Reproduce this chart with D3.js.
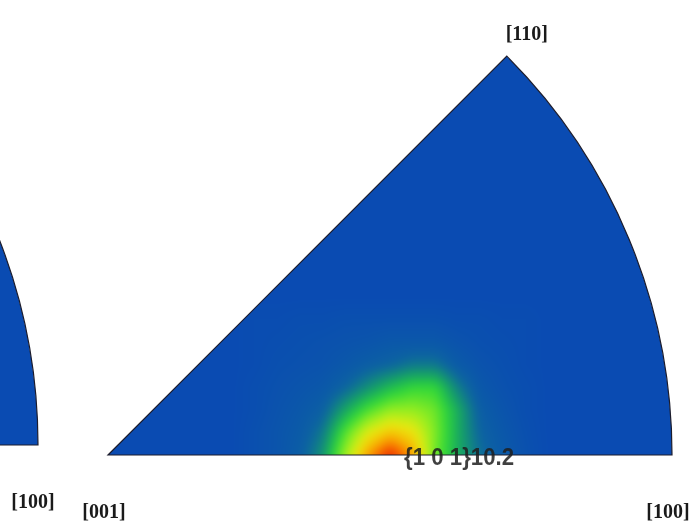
<!DOCTYPE html>
<html><head><meta charset="utf-8">
<script src="https://cdn.jsdelivr.net/npm/d3@7"></script>
<style>
html,body{margin:0;padding:0;background:#fff;}
#wrap{position:relative;width:698px;height:527px;overflow:hidden;}
canvas,svg{position:absolute;left:0;top:0;}
</style></head>
<body><div id="wrap"><canvas id="cv" width="698" height="527"></canvas><svg id="sv" width="698" height="527"></svg></div>
<script>
// Direction labels
const poleLabels = ["[001]", "[100]", "[110]"];
const prevSectorLabel = "[100]";
const peakLabel = "{1 0 1}10.2";

// Intensity grid (fraction of max) around the hot spot, u along [001]->[100], v upward
const gridU = [0.22,0.26,0.30,0.34,0.38,0.42,0.46,0.50,0.54,0.58,0.62,0.66,0.70,0.74,0.78];
const gridV = [0.00,0.04,0.08,0.12,0.16,0.20,0.24,0.28];
const gridVals = [
  [0,0.03,0.06,0.12,0.26,0.56,0.82,0.98,0.82,0.50,0.32,0.18,0.10,0.04,0],
  [0,0.03,0.06,0.10,0.20,0.46,0.66,0.76,0.70,0.52,0.32,0.15,0.08,0.03,0],
  [0,0.02,0.05,0.08,0.13,0.30,0.45,0.55,0.55,0.50,0.32,0.12,0.06,0.02,0],
  [0,0.02,0.04,0.06,0.08,0.15,0.25,0.35,0.42,0.42,0.22,0.08,0.04,0.02,0],
  [0,0.01,0.03,0.04,0.05,0.08,0.12,0.15,0.20,0.20,0.10,0.05,0.03,0.01,0],
  [0,0.01,0.02,0.03,0.04,0.05,0.06,0.08,0.08,0.08,0.05,0.03,0.02,0.01,0],
  [0,0.01,0.01,0.02,0.02,0.03,0.03,0.03,0.03,0.03,0.02,0.02,0.01,0.01,0],
  [0,0,0,0,0,0,0,0,0,0,0,0,0,0,0]
];
// colour ramp stops
const rampStops = [0, 0.15, 0.30, 0.42, 0.55, 0.68, 0.80, 0.90, 1.0];
const rampColors = ["#0a4bb2","#0c62a2","#16a464","#30d838","#94ee20","#eaea10","#f8b000","#f86000","#e01800"];

const x = d3.scaleLinear().domain([0,1]).range([108,672]);
const y = d3.scaleLinear().domain([0,1]).range([455,-109]);
const xp = d3.scaleLinear().domain([0,1]).range([-526,38]);
const yp = d3.scaleLinear().domain([0,1]).range([445,-119]);
const color = d3.scaleLinear().domain(rampStops).range(rampColors).clamp(true);
const R = x(1)-x(0);
const c45 = Math.SQRT1_2;

function sectorPath(sx, sy){
  return `M${sx(0)},${sy(0)} L${sx(1)},${sy(0)} A${R},${R} 0 0 0 ${sx(c45)},${sy(c45)} Z`;
}

const iu = d3.scaleLinear().domain(gridU).range(d3.range(gridU.length));
const iv = d3.scaleLinear().domain(gridV).range(d3.range(gridV.length));
function field(u,v){
  if (v < 0) v = 0;
  if (u < gridU[0] || u > gridU[gridU.length-1] || v > gridV[gridV.length-1]) return 0;
  const fi = iu(u), fj = iv(v);
  const i0 = Math.min(Math.floor(fi), gridU.length-2), j0 = Math.min(Math.floor(fj), gridV.length-2);
  const a = fi-i0, b = fj-j0;
  const g = gridVals;
  return (1-a)*(1-b)*g[j0][i0] + a*(1-b)*g[j0][i0+1] + (1-a)*b*g[j0+1][i0] + a*b*g[j0+1][i0+1];
}

const W = 698, H = 527;
const off = document.createElement("canvas");
off.width = W; off.height = H;
const octx = off.getContext("2d");
const img = octx.createImageData(W,H);
for (let py=0; py<H; py++){
  for (let px=0; px<W; px++){
    const u = x.invert(px+0.5), v = y.invert(py+0.5);
    const c = d3.rgb(color(field(u,v)));
    const k = (py*W+px)*4;
    img.data[k]=c.r; img.data[k+1]=c.g; img.data[k+2]=c.b; img.data[k+3]=255;
  }
}
octx.putImageData(img,0,0);

const ctx = document.getElementById("cv").getContext("2d");
ctx.save();
ctx.clip(new Path2D(sectorPath(x,y)));
ctx.filter = "blur(5px)";
ctx.drawImage(off,0,0);
ctx.restore();
ctx.fillStyle = color(0);
ctx.fill(new Path2D(sectorPath(xp,yp)));

const svg = d3.select("#sv");
svg.append("path").attr("d", sectorPath(xp,yp)).attr("fill","none").attr("stroke","#1c1c2c").attr("stroke-width",1.2);
svg.append("path").attr("d", sectorPath(x,y)).attr("fill","none").attr("stroke","#1c1c2c").attr("stroke-width",1.2);

const lab = svg.append("g").attr("font-family","'Liberation Serif', 'DejaVu Serif', serif")
  .attr("font-weight","bold").attr("font-size",20).attr("fill","#1a1a1a").attr("text-anchor","middle");
lab.append("text").attr("x", x(0)-4).attr("y", y(0)+63).text(poleLabels[0]);
lab.append("text").attr("x", x(1)-4).attr("y", y(0)+63).text(poleLabels[1]);
lab.append("text").attr("x", x(c45)+20).attr("y", y(c45)-16).text(poleLabels[2]);
lab.append("text").attr("x", xp(1)-5).attr("y", yp(0)+63).text(prevSectorLabel);

svg.append("text").attr("x", x(0.525)).attr("y", y(0)+10)
  .attr("font-family","'Liberation Sans', Arial, sans-serif").attr("font-weight","bold")
  .attr("font-size",24).attr("fill","#1e1e1e").attr("fill-opacity",0.85)
  .attr("textLength",110).attr("lengthAdjust","spacingAndGlyphs")
  .text(peakLabel);
</script></body></html>
